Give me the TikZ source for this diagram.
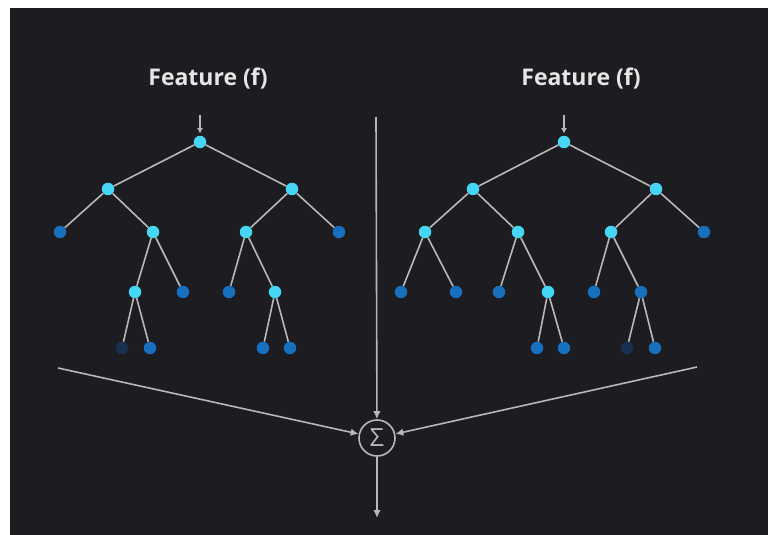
\documentclass[tikz,border=0pt]{standalone}
\usepackage{fontspec}
\setmainfont{Open Sans}
\usepackage{xcolor}
\usepackage{tikz}
\usetikzlibrary{arrows.meta}

\definecolor{bgdark}{HTML}{1C1C21}
\definecolor{splitcyan}{HTML}{45D6F5}
\definecolor{leafblue}{HTML}{1670BE}
\definecolor{leafdark}{HTML}{1A3050}
\definecolor{linegray}{HTML}{B8B8B8}
\definecolor{textgray}{HTML}{E6E6E6}

\begin{document}
\begin{tikzpicture}[
    x=1pt, y=-1pt,
    >={Latex[length=8pt,width=7.5pt]},
    every node/.style={font=\fontsize{23}{28}\selectfont\bfseries, text=textgray},
    split/.style={circle, fill=splitcyan, inner sep=0pt, minimum size=12.5pt},
    leaf/.style={circle, fill=leafblue, inner sep=0pt, minimum size=12.5pt},
    deadleaf/.style={circle, fill=leafdark, inner sep=0pt, minimum size=12.5pt},
    branch/.style={draw=linegray, line width=1.6pt},
    flow/.style={->, draw=linegray, line width=1.6pt},
    sumnode/.style={circle, draw=linegray, line width=1.6pt, minimum size=36pt,
                    inner sep=0pt, text=linegray,
                    font=\fontsize{25}{26}\selectfont},
]

% --- Canvas ---
\fill[white] (0,0) rectangle (769,535);
\fill[bgdark] (10,8) rectangle (768,535);
\useasboundingbox (0,0) rectangle (769,535);

% --- Titles ---
\node[anchor=base] (title1) at (208,86) {Feature (f)};
\node[anchor=base] (title2) at (581,86) {Feature (f)};

% --- Left tree ---
\node[split]    (a)   at (200,142) {};
\node[split]    (al)  at (108,189) {};
\node[split]    (ar)  at (292,189) {};
\node[leaf]     (all) at (60,232)  {};
\node[split]    (alr) at (153,232) {};
\node[split]    (arl) at (246,232) {};
\node[leaf]     (arr) at (339,232) {};
\node[split]    (alrl) at (135,292) {};
\node[leaf]     (alrr) at (183,292) {};
\node[leaf]     (arll) at (229,292) {};
\node[split]    (arlr) at (275,292) {};
\node[deadleaf] (alrll) at (122,348) {};
\node[leaf]     (alrlr) at (150,348) {};
\node[leaf]     (arlrl) at (263,348) {};
\node[leaf]     (arlrr) at (290,348) {};

\draw[branch] (a) -- (al) (a) -- (ar)
              (al) -- (all) (al) -- (alr) (ar) -- (arl) (ar) -- (arr)
              (alr) -- (alrl) (alr) -- (alrr) (arl) -- (arll) (arl) -- (arlr)
              (alrl) -- (alrll) (alrl) -- (alrlr) (arlr) -- (arlrl) (arlr) -- (arlrr);

% --- Right tree ---
\node[split]    (b)   at (564,142) {};
\node[split]    (bl)  at (473,189) {};
\node[split]    (br)  at (656,189) {};
\node[split]    (bll) at (425,232) {};
\node[split]    (blr) at (518,232) {};
\node[split]    (brl) at (611,232) {};
\node[leaf]     (brr) at (704,232) {};
\node[leaf]     (blll) at (401,292) {};
\node[leaf]     (bllr) at (456,292) {};
\node[leaf]     (blrl) at (499,292) {};
\node[split]    (blrr) at (548,292) {};
\node[leaf]     (brll) at (594,292) {};
\node[leaf]     (brlr) at (641,292) {};
\node[leaf]     (blrrl) at (537,348) {};
\node[leaf]     (blrrr) at (564,348) {};
\node[deadleaf] (brlrl) at (627,348) {};
\node[leaf]     (brlrr) at (655,348) {};

\draw[branch] (b) -- (bl) (b) -- (br)
              (bl) -- (bll) (bl) -- (blr) (br) -- (brl) (br) -- (brr)
              (bll) -- (blll) (bll) -- (bllr) (blr) -- (blrl) (blr) -- (blrr)
              (brl) -- (brll) (brl) -- (brlr)
              (blrr) -- (blrrl) (blrr) -- (blrrr) (brlr) -- (brlrl) (brlr) -- (brlrr);

% --- Inputs ---
\coordinate (ina) at (200,115);
\coordinate (inb) at (564,115);
\draw[flow, >={Latex[length=5.5pt,width=6pt]}, shorten >=2pt] (ina) -- (a);
\draw[flow, >={Latex[length=5.5pt,width=6pt]}, shorten >=2pt] (inb) -- (b);

% --- Sum ---
\node[sumnode] (sum) at (377,438) {Σ};
\coordinate (top)   at (376,117);
\coordinate (left)  at (58,368);
\coordinate (right) at (697,367);
\coordinate (out)   at (377,518);

\draw[flow] (top) -- (sum);
\draw[flow] (left) -- (sum);
\draw[flow] (right) -- (sum);
\draw[flow] (sum) -- (out);

\end{tikzpicture}
\end{document}
